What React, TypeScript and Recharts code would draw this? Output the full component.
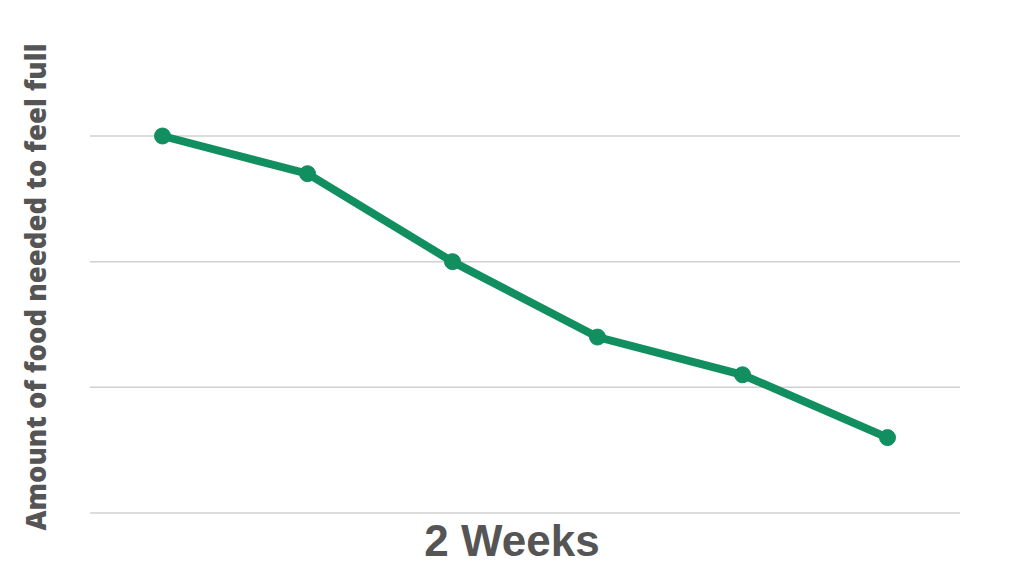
import { LineChart, Line, XAxis, YAxis, CartesianGrid } from 'recharts'

const WEEKS = ['1', '2', '3', '4', '5', '6']
const FOOD_AMOUNT = [3, 2.7, 2, 1.4, 1.1, 0.6]
const Y_TICKS = [0, 1, 2, 3]

const GREEN = '#128f60'
const LABEL_GRAY = '#555555'

const data = WEEKS.map((week, i) => ({ week, amount: FOOD_AMOUNT[i] }))

export default function App() {
  return (
    <div style={{ width: 1024, height: 576, background: '#fff' }}>
      <style>{'body{margin:0}'}</style>
      <LineChart
        width={1024}
        height={576}
        data={data}
        margin={{ top: 136, right: 64, left: 0, bottom: 0 }}
      >
        <CartesianGrid vertical={false} stroke="#d0d0d0" strokeWidth={1.5} />
        <XAxis
          dataKey="week"
          height={63}
          tick={() => <g />}
          tickLine={false}
          axisLine={false}
          padding={{ left: 72.5, right: 72.5 }}
          label={() => (
            <text
              x={512}
              y={556}
              textAnchor="middle"
              fill={LABEL_GRAY}
              fontSize={44}
              fontWeight={700}
              fontFamily="Liberation Sans, Arial, sans-serif"
            >
              2 Weeks
            </text>
          )}
        />
        <YAxis
          width={90}
          domain={[0, 3]}
          ticks={Y_TICKS}
          tick={() => <g />}
          tickLine={false}
          axisLine={false}
          label={() => (
            <text
              x={35}
              y={287}
              transform="rotate(-90, 35, 287)"
              textAnchor="middle"
              dominantBaseline="central"
              fill={LABEL_GRAY}
              fontSize={27.5}
              fontWeight={800}
              fontFamily="Open Sans, sans-serif"
            >
              Amount of food needed to feel full
            </text>
          )}
        />
        <Line
          type="linear"
          dataKey="amount"
          stroke={GREEN}
          strokeWidth={8}
          dot={{ r: 8, fill: GREEN, stroke: GREEN, strokeWidth: 1 }}
          activeDot={false}
          isAnimationActive={false}
        />
      </LineChart>
    </div>
  )
}
